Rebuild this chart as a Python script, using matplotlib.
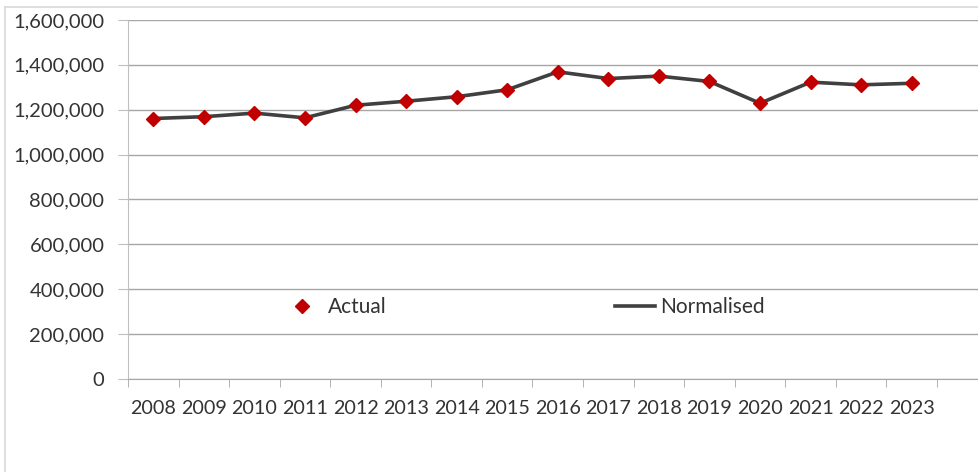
import matplotlib
matplotlib.use("Agg")
import matplotlib.pyplot as plt
from matplotlib.lines import Line2D
from matplotlib.ticker import FuncFormatter, FixedLocator

# yearly totals
years = ["2008", "2009", "2010", "2011", "2012", "2013", "2014", "2015",
         "2016", "2017", "2018", "2019", "2020", "2021", "2022", "2023"]
actual = [1161000, 1169000, 1185000, 1164000, 1220000, 1238000, 1258000, 1289000,
          1369000, 1339000, 1350000, 1326000, 1229000, 1323000, 1311000, 1318000]
normalised = [1161000, 1169000, 1185000, 1164000, 1220000, 1238000, 1258000, 1289000,
              1369000, 1339000, 1350000, 1326000, 1229000, 1323000, 1311000, 1318000]

plt.rcParams["font.family"] = ["Lato", "DejaVu Sans"]
TEXT = "#333333"

fig = plt.figure(figsize=(9.79, 4.72), dpi=100)
ax = fig.add_axes([128 / 979, 1 - 379 / 472, 1 - 128 / 979, 359 / 472])

# outer chart frame (left and top edges visible)
fig.add_artist(Line2D([5 / 979, 5 / 979], [0, 1 - 7 / 472], transform=fig.transFigure,
                      color="#d9d9d9", lw=1.2))
fig.add_artist(Line2D([5 / 979, 1], [1 - 7 / 472, 1 - 7 / 472], transform=fig.transFigure,
                      color="#d9d9d9", lw=1.2))

x = list(range(len(years)))
ax.plot(x, normalised, color="#404040", lw=2.6, label="Normalised", zorder=2)
ax.plot(x, actual, ls="none", marker="D", ms=7, color="#c00000",
        markeredgecolor="#c00000", label="Actual", zorder=3)

ax.set_ylim(0, 1600000)
ax.set_xlim(-0.5, 15.5 + 42 / 50.56)
ax.yaxis.set_major_locator(FixedLocator(range(0, 1600001, 200000)))
ax.yaxis.set_major_formatter(FuncFormatter(lambda v, p: f"{int(v):,}"))
ax.grid(True, axis="y", color="#a6a6a6", lw=1.0)
ax.set_axisbelow(True)

ax.set_xticks(x)
ax.set_xticklabels(years)
ax.set_xticks([i - 0.5 for i in range(len(years) + 1)], minor=True)
ax.tick_params(axis="x", which="major", length=0, pad=15, labelsize=14.2, labelcolor=TEXT)
ax.tick_params(axis="x", which="minor", length=6, color="#a6a6a6", direction="out")
ax.tick_params(axis="y", length=7, color="#bfbfbf", pad=10, labelsize=14.5, labelcolor=TEXT)

for side in ("top", "right"):
    ax.spines[side].set_visible(False)
ax.spines["left"].set_color("#bfbfbf")
ax.spines["bottom"].set_color("#a6a6a6")

handles, labels = ax.get_legend_handles_labels()
ax.legend(handles[::-1], labels[::-1], ncol=2, frameon=False,
          loc="center", bbox_to_anchor=(0.465, 0.2), handlelength=1.9,
          handletextpad=0.25, columnspacing=11.0, fontsize=15, labelcolor=TEXT)

fig.savefig("out.png", dpi=100, facecolor="white")
